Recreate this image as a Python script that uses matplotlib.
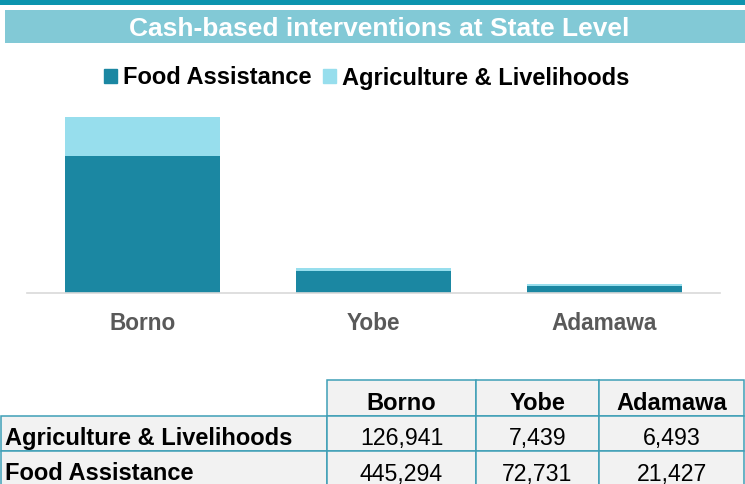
import matplotlib
matplotlib.use('Agg')
import matplotlib.pyplot as plt
from matplotlib.patches import Rectangle, Patch
import numpy as np

# ---------------- data ----------------
states = ['Borno', 'Yobe', 'Adamawa']
series_names = ['Food Assistance', 'Agriculture & Livelihoods']
food = [445294, 72731, 21427]
agri = [126941, 7439, 6493]
title = 'Cash-based interventions at State Level'

# ---------------- style ----------------
plt.rcParams['font.family'] = ['Liberation Sans', 'DejaVu Sans']
DARK = '#1b87a2'
LIGHT = '#97deed'
BAND = '#0c94ae'
TITLEBG = '#82c9d6'
GRID = '#d9d9d9'
LABEL = '#595959'
TBORDER = '#3f9fb6'
TFILL = '#f2f2f2'

W, H = 745, 484
fig = plt.figure(figsize=(W / 100, H / 100), dpi=100)


def px_rect(x0, y0, x1, y1):
    return [x0 / W, 1 - y1 / H, (x1 - x0) / W, (y1 - y0) / H]


# layout overlay in pixel coordinates
lay = fig.add_axes([0, 0, 1, 1])
lay.set_xlim(0, W)
lay.set_ylim(H, 0)
lay.axis('off')
lay.add_patch(Rectangle((0, 0), W, 5, color=BAND, lw=0))
lay.add_patch(Rectangle((5, 10), W - 5, 33, color=TITLEBG, lw=0))
lay.text(379, 36, title, ha='center', va='baseline', color='white',
         fontsize=19, fontweight='bold')

# ---------------- bar chart ----------------
ax = fig.add_axes(px_rect(27, 117, 720, 293))
x = np.arange(len(states))
totals = np.array(food) + np.array(agri)
ax.bar(x, food, width=0.667, color=DARK, label=series_names[0])
ax.bar(x, agri, bottom=food, width=0.667, color=LIGHT, label=series_names[1])
ax.set_xlim(-0.5, len(states) - 0.5)
ax.set_ylim(0, totals.max())
for s in ['top', 'right', 'left']:
    ax.spines[s].set_visible(False)
ax.spines['bottom'].set_color(GRID)
ax.spines['bottom'].set_linewidth(1.2)
ax.set_yticks([])
ax.set_xticks(x, states)
ax.tick_params(axis='x', length=0, pad=13.5, labelsize=16.3, labelcolor=LABEL)
for t in ax.get_xticklabels():
    t.set_fontweight('bold')
ax.set_facecolor('none')

handles = [Patch(color=DARK), Patch(color=LIGHT)]
fig.legend(handles, series_names, loc='center', ncol=2, frameon=False,
           bbox_to_anchor=(367 / W, 1 - 78 / H),
           prop={'weight': 'bold', 'size': 17},
           handlelength=0.55, handleheight=0.55, handletextpad=0.25,
           columnspacing=0.5, borderpad=0)

# ---------------- table ----------------
col_edges = [0.5, 327, 476, 599, 744]
row_edges = [380, 416, 451, 486]
table_rows = [series_names[1], series_names[0]]
table_vals = [agri, food]

# header
for j, st in enumerate(states):
    x0, x1 = col_edges[j + 1], col_edges[j + 2]
    y0, y1 = row_edges[0], row_edges[1]
    lay.add_patch(Rectangle((x0, y0), x1 - x0, y1 - y0, facecolor=TFILL,
                            edgecolor=TBORDER, lw=1.1))
    lay.text((x0 + x1) / 2, y1 - 5.5, st, ha='center', va='baseline',
             fontsize=17, fontweight='bold', color='black')

for i, (rname, vals) in enumerate(zip(table_rows, table_vals)):
    y0, y1 = row_edges[i + 1], row_edges[i + 2]
    x0, x1 = col_edges[0], col_edges[1]
    lay.add_patch(Rectangle((x0, y0), x1 - x0, y1 - y0, facecolor=TFILL,
                            edgecolor=TBORDER, lw=1.1))
    lay.text(5, y1 - 5.5, rname, ha='left', va='baseline',
             fontsize=17, fontweight='bold', color='black')
    for j, v in enumerate(vals):
        x0, x1 = col_edges[j + 1], col_edges[j + 2]
        lay.add_patch(Rectangle((x0, y0), x1 - x0, y1 - y0, facecolor=TFILL,
                                edgecolor=TBORDER, lw=1.1))
        lay.text((x0 + x1) / 2, y1 - 5.5, f'{v:,}', ha='center', va='baseline',
                 fontsize=16.7, color='black')

fig.savefig('out.png', dpi=100)
